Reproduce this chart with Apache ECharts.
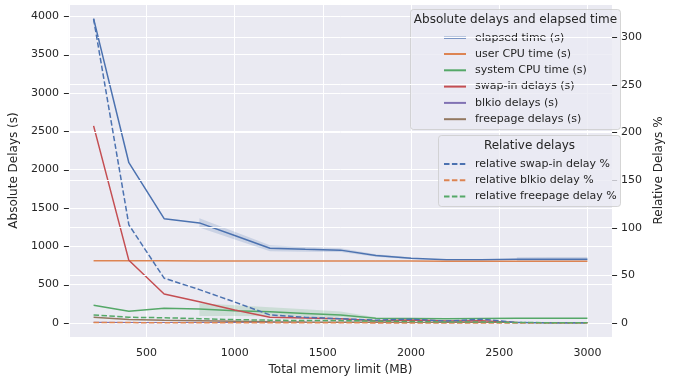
<!DOCTYPE html>
<html>
<head>
<meta charset="utf-8">
<script src="https://cdn.jsdelivr.net/npm/echarts@6/dist/echarts.min.js"></script>
<style>
  html, body { margin: 0; padding: 0; background: #fff; }
  #chart { width: 673px; height: 383px; }
</style>
</head>
<body>
<div id="chart"></div>
<script>
// memory limits (MB)
const memoryLimit = [200, 400, 600, 800, 1000, 1200, 1400, 1600, 1800, 2000, 2200, 2400, 2600, 2800, 3000]

// absolute values, seconds (left axis)
const elapsedTime = [3970, 2090, 1360, 1305, 1140, 975, 962, 950, 880, 843, 825, 825, 830, 832, 832]
const userCpuTime = [810, 810, 810, 809, 809, 808, 808, 808, 807, 807, 806, 806, 806, 805, 805]
const systemCpuTime = [231, 153, 192, 183, 160, 145, 125, 105, 62, 58, 55, 58, 62, 62, 62]
const swapInDelays = [2570, 817, 378, 278, 170, 74, 65, 55, 30, 38, 25, 28, 5, 3, 3]
const blkioDelays = [5, 3, 2, 2, 2, 1, 1, 1, 1, 1, 0, 0, 0, 0, 0]
const freepageDelays = [75, 45, 35, 28, 22, 15, 12, 10, 8, 6, 4, 3, 2, 1, 1]

// confidence bands (null = single run, no band)
const elapsedLow = [null, null, null, 1245, 1090, 935, 930, 925, 865, 830, null, null, 802, 805, 805]
const elapsedHigh = [null, null, null, 1365, 1190, 1015, 990, 975, 895, 856, null, null, 858, 860, 860]
const systemLow = [null, null, null, 91, 90, 88, 82, 76, 55, null, null, null, null, null, null]
const systemHigh = [null, null, null, 257, 230, 205, 180, 150, 75, null, null, null, null, null, null]

// relative values, % (right axis)
const relSwapIn = [319, 103, 47, 35, 22, 8.5, 6, 4.5, 3, 4, 2, 4, 0.5, 0, 0]
const relBlkio = [0.5, 0.4, 0.3, 0.3, 0.3, 0.2, 0.2, 0.2, 0.1, 0.1, 0.1, 0.1, 0, 0, 0]
const relFreepage = [8.5, 6, 5.5, 4.5, 3.5, 3, 2.5, 2.5, 2, 1.5, 1, 1, 0.5, 0.3, 0.3]

// tick labels
const xTicks = [500, 1000, 1500, 2000, 2500, 3000]
const leftTicks = [0, 500, 1000, 1500, 2000, 2500, 3000, 3500, 4000]
const rightTicks = [0, 50, 100, 150, 200, 250, 300]

const absNames = ['elapsed time (s)', 'user CPU time (s)', 'system CPU time (s)', 'swap-in delays (s)', 'blkio delays (s)', 'freepage delays (s)']
const relNames = ['relative swap-in delay %', 'relative blkio delay %', 'relative freepage delay %']

const FONT = 'DejaVu Sans'
const TEXT = '#262626'
const BLUE = '#4C72B0', ORANGE = '#DD8452', GREEN = '#55A868', RED = '#C44E52', PURPLE = '#8172B3', BROWN = '#937860'

function pairs(values) {
  return memoryLimit.map((m, i) => [m, values[i]])
}

function lineSeries(name, values, color, yAxisIndex, dashed, z) {
  return {
    name: name,
    type: 'line',
    yAxisIndex: yAxisIndex,
    z: z,
    data: pairs(values),
    symbol: 'none',
    silent: true,
    lineStyle: { color: color, width: 1.5, type: dashed ? [5.5, 2.4] : 'solid' },
    itemStyle: { color: color },
  }
}

// contiguous runs of [x, low, high] where a band exists
function bandRuns(low, high) {
  const runs = []
  let cur = null
  memoryLimit.forEach((m, i) => {
    if (low[i] == null || high[i] == null) { cur = null; return }
    if (!cur) { cur = []; runs.push(cur) }
    cur.push([m, low[i], high[i]])
  })
  return runs
}

function bandSeries(key, low, high, color) {
  const runs = bandRuns(low, high)
  return {
    name: key + ' band',
    type: 'custom',
    yAxisIndex: 0,
    z: 1,
    silent: true,
    data: runs.map(r => [r[0][0], r[0][1]]),
    renderItem: (params, api) => {
      const run = runs[params.dataIndex]
      const top = run.map(p => api.coord([p[0], p[2]]))
      const bottom = run.map(p => api.coord([p[0], p[1]])).reverse()
      return {
        type: 'polygon',
        shape: { points: top.concat(bottom) },
        style: { fill: color },
      }
    },
  }
}

// short outward tick marks at the labelled values, placed through the axis scale
function tickSeries(ticks, yAxisIndex, side, z) {
  return {
    name: 'ticks ' + yAxisIndex,
    type: 'custom',
    yAxisIndex: yAxisIndex,
    z: z,
    silent: true,
    clip: false,
    data: ticks.map(t => [side === 'left' ? 60 : 3140, t]),
    renderItem: (params, api) => {
      const p = api.coord([api.value(0), api.value(1)])
      const x = side === 'left' ? params.coordSys.x : params.coordSys.x + params.coordSys.width
      const y = Math.round(p[1]) + 0.5
      const dx = side === 'left' ? -5 : 5
      return {
        type: 'line',
        shape: { x1: x + dx, y1: y, x2: x, y2: y },
        style: { stroke: TEXT, lineWidth: 1 },
      }
    },
  }
}

const axisText = { fontSize: 11, color: TEXT, fontFamily: FONT }
const fmt = v => String(v)

const chart = echarts.init(document.getElementById('chart'))

chart.setOption({
  animation: false,
  textStyle: { fontFamily: FONT },
  grid: {
    left: 68, right: 46, top: 4, bottom: 46,
    show: true, backgroundColor: '#EAEAF2', borderWidth: 0,
  },
  xAxis: {
    type: 'value',
    min: 60,
    max: 3140,
    z: 0,
    name: 'Total memory limit (MB)',
    nameLocation: 'middle',
    nameGap: 27,
    nameTextStyle: { fontSize: 12, color: TEXT, fontFamily: FONT },
    axisLine: { show: false },
    axisTick: { show: false },
    axisLabel: { ...axisText, customValues: xTicks, margin: 11, formatter: fmt },
    splitLine: { lineStyle: { color: '#ffffff', width: 1 } },
  },
  yAxis: [
    {
      type: 'value',
      position: 'left',
      min: -183,
      max: 4160,
      splitNumber: 8,
      z: 0,
      name: 'Absolute Delays (s)',
      nameLocation: 'middle',
      nameGap: 44,
      nameRotate: 90,
      nameTextStyle: { fontSize: 12, color: TEXT, fontFamily: FONT },
      axisLine: { show: false },
      axisTick: { show: false },
      axisLabel: { ...axisText, customValues: leftTicks, margin: 10, formatter: fmt },
      splitLine: { lineStyle: { color: '#ffffff', width: 1 } },
    },
    {
      type: 'value',
      position: 'right',
      min: -14.7,
      max: 334.7,
      splitNumber: 7,
      z: 4,
      name: 'Relative Delays %',
      nameLocation: 'middle',
      nameGap: 32,
      nameRotate: 90,
      nameTextStyle: { fontSize: 12, color: TEXT, fontFamily: FONT },
      axisLine: { show: false },
      axisTick: { show: false },
      axisLabel: { ...axisText, customValues: rightTicks, margin: 9, formatter: fmt },
      splitLine: { lineStyle: { color: '#ffffff', width: 1 } },
    },
  ],
  legend: [
    {
      data: absNames,
      orient: 'vertical',
      left: 443,
      top: 29.7,
      padding: 0,
      z: 3,
      selectedMode: false,
      itemWidth: 22,
      itemHeight: 16,
      itemGap: 0.3,
      itemStyle: { opacity: 0 },
      textStyle: { ...axisText, lineHeight: 16, padding: [0, 0, 0, 4] },
    },
    {
      data: relNames,
      orient: 'vertical',
      left: 443,
      top: 156,
      padding: 0,
      z: 7,
      selectedMode: false,
      itemWidth: 22,
      itemHeight: 16,
      itemGap: 0.3,
      itemStyle: { opacity: 0 },
      textStyle: { ...axisText, lineHeight: 16, padding: [0, 0, 0, 4] },
    },
  ],
  graphic: [
    {
      type: 'rect', z: 2, silent: true,
      shape: { x: 410.5, y: 9.5, width: 210, height: 120, r: 3 },
      style: { fill: 'rgba(234,234,242,0.8)', stroke: 'rgba(204,204,204,0.8)', lineWidth: 1 },
    },
    {
      type: 'text', z: 3, silent: true, x: 515.5, y: 20,
      style: { text: 'Absolute delays and elapsed time', fontSize: 12, fontFamily: FONT, fill: TEXT, align: 'center', verticalAlign: 'middle' },
    },
    {
      type: 'rect', z: 6, silent: true,
      shape: { x: 438.5, y: 135.5, width: 182, height: 71, r: 3 },
      style: { fill: 'rgba(234,234,242,0.8)', stroke: 'rgba(204,204,204,0.8)', lineWidth: 1 },
    },
    {
      type: 'text', z: 7, silent: true, x: 529.5, y: 146,
      style: { text: 'Relative delays', fontSize: 12, fontFamily: FONT, fill: TEXT, align: 'center', verticalAlign: 'middle' },
    },
  ],
  series: [
    tickSeries(leftTicks, 0, 'left', 1),
    tickSeries(rightTicks, 1, 'right', 5),
    bandSeries('elapsed', elapsedLow, elapsedHigh, 'rgba(76,114,176,0.2)'),
    bandSeries('system', systemLow, systemHigh, 'rgba(85,168,104,0.2)'),
    lineSeries(absNames[0], elapsedTime, BLUE, 0, false, 1),
    lineSeries(absNames[1], userCpuTime, ORANGE, 0, false, 1),
    lineSeries(absNames[2], systemCpuTime, GREEN, 0, false, 1),
    lineSeries(absNames[3], swapInDelays, RED, 0, false, 1),
    lineSeries(absNames[4], blkioDelays, PURPLE, 0, false, 1),
    lineSeries(absNames[5], freepageDelays, BROWN, 0, false, 1),
    lineSeries(relNames[0], relSwapIn, BLUE, 1, true, 5),
    lineSeries(relNames[1], relBlkio, ORANGE, 1, true, 5),
    lineSeries(relNames[2], relFreepage, GREEN, 1, true, 5),
  ],
})

window.addEventListener('resize', () => chart.resize())
</script>
</body>
</html>
